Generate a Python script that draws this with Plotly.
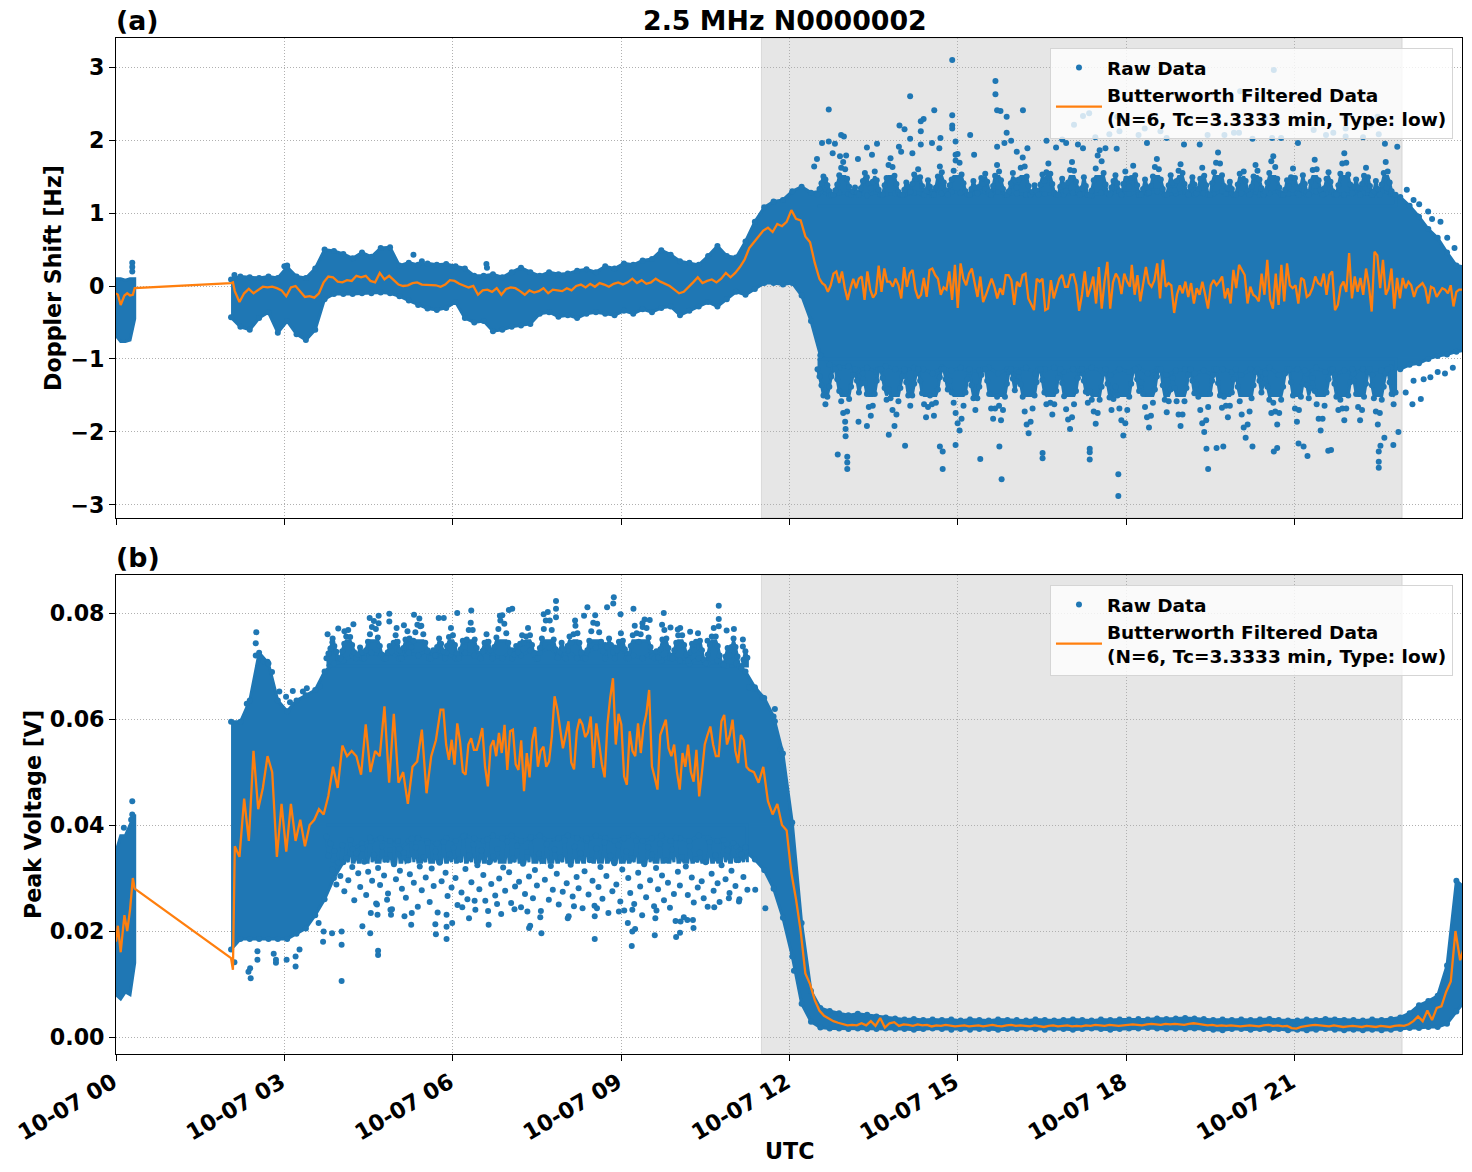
import pandas as pd
import plotly.graph_objects as go

DAY = "2023-10-07"
BLUE = "#1f77b4"
ORANGE = "#ff7f0e"
FONT = "DejaVu Sans"
RAW_NAME = "Raw Data"
FILT_NAME = "Butterworth Filtered Data<br>(N=6, Tc=3.3333 min, Type: low)"
TICK_LABEL_FORMAT = "%m-%d %H"

# Envelope of the densely overlapping raw samples, first recording burst (5 min steps)
burst_upper_a = [.10, .10, .08, .10, .10]
burst_lower_a = [-.68, -.76, -.76, -.74, -.45]
burst_upper_b = [.035, .038, .038, .040, .042]
burst_lower_b = [.008, .0072, .0085, .008, .014]

# Envelope of the main recording (10 min steps from 02:03)
upper_a = [
    .09, .13, .12, .11, .13, .11,
    .26, .13, .11, .24, .50, .48,
    .44, .38, .46, .40, .52, .53,
    .28, .32, .29, .31, .29, .30,
    .27, .24, .14, .14, .16, .12,
    .19, .25, .19, .14, .19, .16,
    .17, .21, .23, .19, .27, .24,
    .31, .29, .35, .37, .49, .43,
    .34, .32, .29, .41, .55, .41,
    .39, .61, .88, 1.08, 1.16, 1.18,
    1.30, 1.36, 1.28, 1.30, 1.24, 1.28,
    1.26, 1.28, 1.24, 1.29, 1.26, 1.27,
    1.25, 1.28, 1.26, 1.30, 1.27, 1.29,
    1.28, 1.25, 1.30, 1.27, 1.29, 1.26,
    1.27, 1.25, 1.29, 1.26, 1.27, 1.25,
    1.28, 1.26, 1.24, 1.28, 1.27, 1.30,
    1.26, 1.28, 1.27, 1.30, 1.25, 1.27,
    1.29, 1.25, 1.27, 1.26, 1.30, 1.27,
    1.27, 1.29, 1.25, 1.27, 1.30, 1.26,
    1.27, 1.25, 1.30, 1.27, 1.28, 1.25,
    1.28, 1.27, 1.25, 1.30, 1.26, 1.22,
    1.10, .95, .78, .66, .46, .28, .26,
]
lower_a = [
    -.43, -.56, -.60, -.44, -.36, -.64,
    -.48, -.66, -.74, -.60, -.18, -.11,
    -.11, -.11, -.10, -.10, -.09, -.10,
    -.14, -.20, -.26, -.31, -.33, -.30,
    -.22, -.44, -.50, -.48, -.62, -.60,
    -.56, -.54, -.52, -.38, -.36, -.42,
    -.40, -.44, -.38, -.36, -.38, -.40,
    -.34, -.38, -.32, -.36, -.30, -.28,
    -.40, -.34, -.28, -.22, -.28, -.18,
    -.08, -.12, -.04, .04, .04, .02,
    .04, -.13, -.48, -.95, -1.08, -1.12,
    -1.10, -1.16, -1.12, -1.18, -1.10, -1.14,
    -1.16, -1.12, -1.14, -1.20, -1.12, -1.16,
    -1.12, -1.18, -1.16, -1.12, -1.20, -1.14,
    -1.16, -1.12, -1.20, -1.14, -1.12, -1.18,
    -1.14, -1.20, -1.12, -1.16, -1.22, -1.14,
    -1.18, -1.12, -1.20, -1.14, -1.22, -1.16,
    -1.14, -1.20, -1.16, -1.22, -1.14, -1.18,
    -1.22, -1.14, -1.18, -1.12, -1.22, -1.16,
    -1.14, -1.20, -1.12, -1.18, -1.22, -1.16,
    -1.20, -1.14, -1.22, -1.16, -1.12, -1.14,
    -1.08, -1.06, -1.00, -.96, -.94, -.90, -.88,
]
upper_b = [
    .0595, .0595, .0635, .0725, .0705, .0635,
    .0615, .0635, .0645, .0655, .0690, .0705,
    .0710, .0720, .0715, .0725, .0720, .0725,
    .0715, .0725, .0720, .0730, .0720, .0725,
    .0715, .0725, .0720, .0730, .0720, .0715,
    .0730, .0720, .0730, .0725, .0735, .0720,
    .0730, .0715, .0725, .0735, .0740, .0735,
    .0730, .0720, .0715, .0725, .0710, .0720,
    .0710, .0705, .0715, .0705, .0710, .0700,
    .0705, .0690, .0660, .0640, .0605, .0535,
    .0405, .0215, .0087, .0055, .0049, .0045,
    .0041, .0044, .0042, .0039, .0037, .0035,
    .0033, .0034, .0032, .0033, .0032, .0033,
    .0031, .0033, .0032, .0031, .0033, .0032,
    .0032, .0031, .0033, .0032, .0031, .0032,
    .0033, .0032, .0031, .0033, .0032, .0033,
    .0033, .0034, .0033, .0035, .0034, .0035,
    .0036, .0035, .0034, .0032, .0033, .0032,
    .0033, .0032, .0033, .0034, .0032, .0031,
    .0031, .0033, .0032, .0034, .0033, .0032,
    .0032, .0031, .0033, .0032, .0034, .0037,
    .0045, .0060, .0068, .0078, .0135, .0295, .0280,
]
lower_b = [
    .0165, .0185, .0185, .0185, .0185, .0185,
    .0185, .0195, .0205, .0230, .0260, .0300,
    .0330, .0355, .0365, .0370, .0375, .0370,
    .0355, .0370, .0375, .0370, .0365, .0375,
    .0370, .0380, .0375, .0370, .0380, .0375,
    .0380, .0370, .0375, .0380, .0370, .0375,
    .0380, .0375, .0370, .0380, .0375, .0370,
    .0375, .0380, .0370, .0375, .0380, .0370,
    .0375, .0370, .0380, .0375, .0370, .0365,
    .0360, .0350, .0335, .0315, .0280, .0225,
    .0152, .0063, .0029, .0018, .0016, .0016,
    .0015, .0016, .0015, .0015, .0016, .0015,
    .0015, .0014, .0015, .0016, .0015, .0014,
    .0015, .0014, .0015, .0015, .0014, .0015,
    .0015, .0016, .0015, .0014, .0015, .0015,
    .0014, .0015, .0016, .0015, .0014, .0015,
    .0016, .0016, .0017, .0016, .0015, .0016,
    .0015, .0016, .0015, .0014, .0013, .0015,
    .0015, .0014, .0015, .0014, .0015, .0013,
    .0014, .0013, .0014, .0015, .0014, .0013,
    .0014, .0013, .0014, .0013, .0014, .0015,
    .0017, .0017, .0019, .0019, .0025, .0048, .0070,
]

# Raw samples in the clumpy fringe just outside the solid band (evenly timed)
fringe_top_a = [
    1.25, 1.33, 1.41, 1.50, 1.46, 1.38, 1.30, 1.25, 1.25, 1.31, 1.39, 1.52, 1.62, 1.70, 1.60, 1.47, 1.36, 1.25, 1.30, 1.35, 1.28,
    1.25, 1.34, 1.44, 1.55, 1.49, 1.40, 1.34, 1.43, 1.57, 1.45, 1.32, 1.25, 1.25, 1.38, 1.48, 1.66, 1.75, 1.63, 1.51, 1.40, 1.29,
    1.25, 1.25, 1.32, 1.42, 1.36, 1.29, 1.40, 1.53, 1.47, 1.60, 1.49, 1.37, 1.25, 1.31, 1.45, 1.36, 1.25, 1.25, 1.35, 1.50, 1.64,
    1.56, 1.42, 1.31, 1.25, 1.38, 1.46, 1.58, 1.72, 1.81, 1.69, 1.53, 1.41, 1.30, 1.25, 1.25, 1.33, 1.44, 1.35, 1.27, 1.36, 1.48,
    1.40, 1.54, 1.43, 1.30, 1.25, 1.37, 1.51, 1.66, 1.57, 1.45, 1.33, 1.25, 1.25, 1.30, 1.41, 1.55, 1.45, 1.35, 1.46, 1.62, 1.76,
    1.64, 1.50, 1.37, 1.25, 1.29, 1.38, 1.31, 1.25, 1.39, 1.53, 1.44, 1.56, 1.68, 1.54, 1.40, 1.28, 1.25, 1.25, 1.36, 1.47, 1.38,
    1.30, 1.42, 1.59, 1.70, 1.58, 1.43, 1.32, 1.25, 1.34, 1.49, 1.37, 1.25, 1.25, 1.31, 1.45, 1.61, 1.79, 1.86, 1.71, 1.55, 1.39,
    1.27, 1.25, 1.35, 1.44, 1.52, 1.41, 1.30, 1.25, 1.40, 1.57, 1.47, 1.36, 1.48, 1.65, 1.52, 1.38, 1.25, 1.25, 1.33, 1.46, 1.35,
    1.28, 1.37, 1.50, 1.63, 1.74, 1.60, 1.46, 1.33, 1.25, 1.25, 1.38, 1.52, 1.42, 1.31, 1.44, 1.58, 1.67, 1.55, 1.40, 1.29, 1.25,
    1.36, 1.49, 1.39, 1.27, 1.33, 1.47, 1.62, 1.51, 1.38, 1.25, 1.25, 1.41, 1.56, 1.69, 1.83, 1.68, 1.52, 1.37, 1.26, 1.34, 1.43,
    1.33, 1.25, 1.25, 1.39, 1.54, 1.45, 1.57, 1.44, 1.31, 1.25, 1.36, 1.50, 1.66, 1.58, 1.46, 1.34, 1.25, 1.30, 1.42, 1.55, 1.71,
    1.78, 1.63, 1.47, 1.35, 1.25, 1.25, 1.32, 1.45, 1.36, 1.49, 1.61, 1.48, 1.35, 1.25, 1.37, 1.52, 1.40, 1.29, 1.25, 1.43, 1.59,
    1.73, 1.60, 1.45, 1.32, 1.25, 1.34, 1.47, 1.56, 1.43, 1.30, 1.25, 1.25, 1.38, 1.54, 1.68, 1.82, 1.69, 1.53, 1.39, 1.27, 1.36,
    1.46, 1.35, 1.25, 1.40, 1.51, 1.62, 1.49, 1.37, 1.25, 1.30, 1.44, 1.33, 1.25, 1.39, 1.55, 1.70, 1.57, 1.42, 1.30, 1.25, 1.25,
]
fringe_bottom_a = [
    -1.14, -1.24, -1.36, -1.50, -1.62, -1.52, -1.38, -1.24, -1.14, -1.14, -1.28, -1.44, -1.58, -1.74, -1.86, -1.72, -1.55, -1.38, -1.22, -1.14, -1.30,
    -1.46, -1.34, -1.20, -1.33, -1.48, -1.66, -1.78, -1.64, -1.48, -1.30, -1.14, -1.14, -1.26, -1.40, -1.56, -1.42, -1.54, -1.70, -1.92, -1.76, -1.58,
    -1.40, -1.24, -1.14, -1.32, -1.50, -1.64, -1.50, -1.34, -1.20, -1.14, -1.30, -1.47, -1.62, -1.80, -1.66, -1.50, -1.62, -1.78, -1.60, -1.42, -1.25,
    -1.14, -1.14, -1.28, -1.42, -1.30, -1.46, -1.60, -1.74, -1.88, -1.98, -1.82, -1.64, -1.46, -1.28, -1.14, -1.36, -1.54, -1.70, -1.54, -1.38, -1.22,
    -1.14, -1.14, -1.30, -1.48, -1.68, -1.82, -1.68, -1.52, -1.64, -1.84, -1.70, -1.52, -1.34, -1.18, -1.14, -1.27, -1.43, -1.31, -1.18, -1.35, -1.52,
    -1.72, -1.90, -2.02, -1.86, -1.68, -1.50, -1.32, -1.14, -1.14, -1.29, -1.46, -1.62, -1.48, -1.60, -1.76, -1.62, -1.44, -1.26, -1.14, -1.33, -1.51,
    -1.69, -1.83, -1.96, -1.80, -1.62, -1.44, -1.26, -1.14, -1.14, -1.30, -1.45, -1.60, -1.44, -1.56, -1.72, -1.89, -1.74, -1.56, -1.38, -1.20, -1.14,
    -1.34, -1.53, -1.70, -1.55, -1.38, -1.50, -1.68, -1.84, -2.05, -1.88, -1.70, -1.52, -1.34, -1.16, -1.14, -1.28, -1.44, -1.32, -1.48, -1.66, -1.80,
    -1.94, -1.78, -1.60, -1.42, -1.24, -1.14, -1.14, -1.36, -1.56, -1.73, -1.58, -1.42, -1.26, -1.40, -1.58, -1.76, -1.92, -1.76, -1.58, -1.40, -1.22,
    -1.14, -1.30, -1.47, -1.35, -1.52, -1.70, -1.88, -2.00, -1.84, -1.66, -1.48, -1.30, -1.14, -1.14, -1.33, -1.50, -1.67, -1.52, -1.64, -1.80, -1.64,
    -1.46, -1.28, -1.14, -1.38, -1.58, -1.76, -1.94, -2.08, -1.90, -1.72, -1.54, -1.36, -1.18, -1.14, -1.30, -1.46, -1.34, -1.20, -1.38, -1.56, -1.74,
    -1.60, -1.72, -1.90, -1.74, -1.56, -1.38, -1.20, -1.14, -1.14, -1.32, -1.50, -1.68, -1.86, -1.70, -1.52, -1.34, -1.16, -1.36, -1.54, -1.40, -1.26,
    -1.44, -1.62, -1.82, -1.98, -1.82, -1.64, -1.46, -1.28, -1.14, -1.14, -1.34, -1.52, -1.70, -1.56, -1.68, -1.84, -1.68, -1.50, -1.32, -1.14, -1.30,
    -1.48, -1.66, -1.84, -1.70, -1.52, -1.34, -1.18, -1.14, -1.36, -1.54, -1.72, -1.90, -1.74, -1.56, -1.38, -1.20, -1.14, -1.32, -1.48, -1.62, -1.46,
]
fringe_top_b = [
    .0715, .0724, .0733, .0745, .0738, .0727, .0715, .0715, .0728, .0742, .0756, .0768, .0755, .0740, .0726, .0715, .0722, .0735, .0726,
    .0715, .0730, .0746, .0760, .0774, .0785, .0770, .0754, .0738, .0722, .0715, .0715, .0726, .0738, .0728, .0744, .0758, .0746, .0730,
    .0715, .0734, .0750, .0766, .0752, .0736, .0748, .0764, .0778, .0790, .0776, .0760, .0744, .0728, .0715, .0715, .0730, .0720, .0736,
    .0752, .0742, .0728, .0715, .0738, .0755, .0772, .0758, .0740, .0724, .0715, .0732, .0748, .0736, .0750, .0768, .0782, .0768, .0750,
    .0734, .0718, .0715, .0728, .0744, .0760, .0746, .0730, .0715, .0736, .0754, .0770, .0786, .0796, .0780, .0762, .0744, .0726, .0715,
    .0722, .0738, .0726, .0742, .0758, .0744, .0756, .0772, .0758, .0740, .0722, .0715, .0715, .0734, .0752, .0770, .0786, .0802, .0786,
    .0768, .0750, .0732, .0716, .0728, .0744, .0732, .0715, .0738, .0756, .0744, .0760, .0776, .0762, .0744, .0726, .0715, .0715, .0730,
    .0748, .0766, .0782, .0796, .0780, .0764, .0746, .0728, .0715, .0736, .0752, .0740, .0726, .0715, .0730, .0746, .0762, .0748, .0732,
    .0715, .0715, .0738, .0758, .0776, .0762, .0746, .0760, .0774, .0788, .0772, .0754, .0736, .0718, .0715, .0728, .0716, .0732, .0750,
    .0768, .0752, .0734, .0715, .0715, .0730, .0744, .0758, .0772, .0758, .0740, .0722, .0710, .0726, .0742, .0730, .0746, .0762, .0748,
    .0730, .0712, .0705, .0722, .0740, .0756, .0772, .0756, .0738, .0720, .0705, .0702, .0718, .0734, .0720, .0736, .0752, .0736, .0718,
    .0700, .0696, .0712, .0728, .0716,
]
fringe_bottom_b = [
    .0378, .0342, .0365, .0316, .0351, .0288, .0329, .0304, .0362, .0275, .0338, .0296, .0372, .0321, .0258, .0347, .0309, .0283, .0356,
    .0331, .0268, .0312, .0376, .0295, .0344, .0252, .0319, .0287, .0360, .0305, .0336, .0271, .0353, .0241, .0326, .0298, .0370, .0314,
    .0280, .0348, .0263, .0333, .0307, .0374, .0291, .0358, .0246, .0322, .0277, .0340, .0301, .0366, .0255, .0318, .0285, .0350, .0235,
    .0329, .0294, .0368, .0310, .0266, .0345, .0282, .0357, .0300, .0249, .0335, .0273, .0379, .0317, .0260, .0343, .0292, .0363, .0240,
    .0324, .0279, .0352, .0306, .0257, .0373, .0330, .0289, .0341, .0267, .0355, .0299, .0232, .0320, .0276, .0369, .0311, .0253, .0337,
    .0284, .0361, .0293, .0245, .0327, .0270, .0349, .0303, .0377, .0262, .0315, .0286, .0346, .0238, .0332, .0297, .0364, .0259, .0323,
    .0278, .0354, .0308, .0250, .0339, .0274, .0371, .0290, .0228, .0325, .0265, .0359, .0302, .0281, .0347, .0243, .0313, .0375, .0269,
    .0334, .0295, .0248, .0356, .0283, .0321, .0261, .0367, .0304, .0234, .0342, .0275, .0328, .0288, .0362, .0256, .0316, .0239, .0350,
    .0300, .0272, .0338, .0251, .0370, .0310, .0284, .0230, .0326, .0264, .0358, .0296, .0344, .0247, .0319, .0279, .0365, .0305, .0258,
    .0333, .0291, .0244, .0354, .0270, .0376, .0312, .0286, .0340, .0226, .0322, .0268, .0360, .0301, .0254, .0336, .0282, .0348, .0294,
    .0262, .0330, .0246, .0368, .0308, .0276, .0343, .0290, .0255, .0324, .0372, .0298, .0352, .0272, .0314, .0366, .0285, .0334, .0260,
    .0345, .0302, .0358, .0278,
]

# Isolated raw samples standing clear of the fringe, panel (a)
dots_a_hours = [
    0.29, 0.29, 0.29, 2.11, 3.0, 3.05, 5.3, 5.45, 6.6, 6.61,
    14.9, 15.67, 15.67, 14.15, 12.7, 14.58, 15.7, 15.76, 16.16, 15.87, 14.9, 14.9, 14.9, 14.39, 14.34, 13.96, 14.05, 14.34, 14.15,
    12.58, 12.7, 12.81, 12.92, 12.97, 12.77, 12.9, 13.01, 12.49, 12.44, 13.22, 13.38, 13.56, 13.47, 13.95, 13.99, 14.19, 14.34, 14.54, 14.69, 14.67, 14.96, 14.96,
    15.22, 15.29, 15.7, 15.83, 15.95, 15.87, 16.05, 16.24, 16.58, 16.86, 16.93, 16.75, 17.14, 17.23, 17.45, 17.63, 17.7, 17.88, 17.83,
    18.22, 18.33, 18.37, 18.61, 18.72, 19.03, 19.31, 19.45, 19.75, 19.92, 20.01, 20.25, 20.6, 20.76, 21.06, 21.34, 21.56, 21.69, 21.91, 21.91, 22.22, 22.5, 22.61, 22.83,
    20.63, 20.03, 20.47, 20.69, 17.07, 17.23, 17.34, 17.84, 17.98, 21.91, 22.35, 22.48,
    23.0, 23.12, 23.22, 23.38, 23.45, 23.6, 23.72, 23.85,
]
dots_a_values = [
    0.32, 0.26, 0.20, 0.15, 0.27, 0.28, 0.43, 0.34, 0.30, 0.25,
    3.1, 2.81, 2.63, 2.6, 2.42, 2.41, 2.41, 2.4, 2.41, 2.32, 2.34, 2.2, 2.16, 2.29, 2.26, 2.2, 2.15, 2.12, 2.02,
    1.96, 1.98, 1.95, 2.07, 2.05, 1.82, 1.78, 1.79, 1.74, 1.64, 1.74, 1.9, 1.95, 1.8, 1.91, 1.84, 1.82, 1.94, 1.96, 2.03, 1.89, 1.98, 1.8,
    2.07, 1.8, 1.91, 1.96, 1.99, 2.1, 1.84, 1.89, 1.99, 2.01, 1.96, 1.9, 1.94, 1.89, 2.04, 1.89, 2.08, 2.12, 1.88,
    2.07, 2.16, 1.96, 2.12, 2.03, 1.94, 1.94, 2.07, 2.07, 2.1, 2.1, 2.02, 2.03, 2.03, 1.96, 2.14, 2.07, 2.1, 2.16, 2.05, 2.04, 2.08, 1.95, 1.91,
    2.96, 2.67, 2.3, 2.3, 2.21, 2.33, 2.37, 2.32, 2.26, 2.32, 2.21, 2.32,
    1.32, 1.18, 1.12, 1.02, .92, .88, .66, .52,
]
dots_a_low_hours = [
    17.86, 17.86, 15.78, 13.03, 13.03, 13.03, 12.86, 14.73, 14.73, 14.68, 14.06, 14.96, 15.4, 15.74, 16.51, 16.51, 17.35, 17.35, 17.35, 19.46, 19.43, 19.61, 19.73, 20.25, 20.63, 20.69, 21.23, 21.07, 21.16, 21.6, 21.65, 22.5, 22.5, 22.5, 22.53, 22.6, 22.76, 22.85, 13.0, 13.0, 13.23, 13.38, 13.77,
    22.98, 23.1, 23.12, 23.25, 23.3, 23.42, 23.55, 23.68, 23.82,
]
dots_a_low_values = [
    -2.88, -2.58, -2.65, -2.51, -2.42, -2.34, -2.31, -2.51, -2.27, -2.2, -2.19, -2.18, -2.37, -2.2, -2.29, -2.36, -2.38, -2.28, -2.23, -2.51, -2.23, -2.22, -2.2, -2.2, -2.27, -2.22, -2.33, -2.16, -2.2, -2.26, -2.25, -2.49, -2.41, -2.27, -2.19, -2.08, -2.18, -2.0, -2.06, -1.96, -1.86, -1.92, -2.04,
    -1.46, -1.62, -1.3, -1.55, -1.28, -1.25, -1.18, -1.2, -1.12,
]

# Isolated raw samples standing clear of the fringe, panel (b)
dots_b_hours = [
    0.29, 0.29, 0.27, 0.14, 2.5, 2.49, 2.49, 2.63, 2.7, 2.78, 2.33, 2.91, 3.15, 3.03, 3.1, 3.33, 3.4, 3.63, 3.77, 3.86, 3.96, 4.07, 4.23, 4.52, 4.68, 4.68, 4.87, 4.87, 5.31, 5.0, 5.13, 5.42, 5.75, 5.84,
    6.08, 6.33, 6.84, 7.0, 7.06, 7.62, 7.84, 7.84, 7.84, 8.18, 8.4, 8.34, 8.75, 8.87, 8.86, 9.22, 8.99, 9.38, 9.51, 9.76, 9.73, 9.88, 10.01, 10.23, 10.54, 10.74, 10.74, 10.74, 10.88, 11.01, 11.17, 11.17, 11.28, 11.39, 11.52, 11.74, 11.74, 11.84,
    4.02, 2.4, 2.36, 2.39, 2.52, 2.85, 2.85, 3.04, 3.2, 3.2, 3.27, 2.81, 2.52, 2.11, 4.02, 4.02, 4.67, 4.67, 4.39, 4.53, 3.85, 3.69, 3.7, 3.61, 4.54, 4.66, 4.65, 4.83, 4.89, 4.9, 5.14, 5.26, 5.27, 5.69, 5.7, 5.89, 5.89,
    5.99, 5.89, 6.17, 6.29, 6.39, 6.64, 6.63, 6.79, 7.36, 7.38, 7.58, 7.56, 7.1, 7.33, 8.05, 8.16, 8.53, 8.53, 8.57, 8.96, 9.12, 9.19, 9.2, 9.25, 9.2, 9.6, 9.61, 9.63, 9.98, 10.05, 9.97, 10.06, 10.18, 10.29, 10.28, 10.66, 11.1, 10.92, 11.39, 11.57, 12.08,
]
dots_b_values = [
    .0445, .042, .041, .0395, .0764, .0743, .072, .0709, .0708, .0689, .0629, .0652, .0653, .0642, .0632, .0652, .0658, .0662, .076, .0752, .0771, .0766, .0779, .0791, .0795, .0781, .0799, .0784, .0797, .0772, .0777, .0775, .0791, .0791,
    .08, .0805, .0795, .0806, .0808, .0798, .0823, .0808, .0792, .0786, .0811, .0795, .0811, .083, .0818, .0808, .0798, .0781, .0787, .08, .0778, .0773, .0769, .0765, .0748, .0814, .0789, .0775, .0767, .077, .075, .0737, .066, .0657, .064, .0619, .0596, .0543,
    .0106, .0111, .0123, .013, .0146, .014, .0146, .0146, .0133, .0152, .0165, .0157, .0162, .0141, .0174, .0199, .0155, .0163, .0209, .0196, .0196, .018, .0199, .0215, .0234, .0231, .025, .0259, .024, .0231, .0228, .0212, .0234, .0213, .0194, .0185, .0208,
    .0215, .0231, .0245, .0224, .0257, .0212, .0238, .0251, .0206, .021, .0196, .0226, .0241, .0237, .0224, .0247, .0185, .0228, .0243, .0237, .0215, .0172, .0199, .0204, .024, .0192, .0224, .0239, .0189, .0197, .0219, .0218, .0221, .0206, .0221, .0245, .0256, .0262, .0278, .0243, .0125,
]

# Filtered trace: first burst, then the jump across the recording gap
filt_head_clock = ["00:00", "00:02", "00:05", "00:09", "00:12", "00:15", "00:18", "00:20"]
filt_head_a = [-.10, -.12, -.26, -.13, -.10, -.13, -.12, -.03]
filt_head_b = [.018, .021, .016, .023, .020, .024, .030, .028]
filt_join_clock = ["02:03", "02:05"]
filt_join_a = [.04, .05]
filt_join_b = [.0149, .0127]

# Filtered Doppler shift: 5 min steps from 02:07 to 12:27
filt_a_quiet = [
    -.07, -.22, -.10, -.04, -.10, -.05, -.01, -.02, -.01, -.03, -.06, -.14,
    -.02, .0, -.08, -.15, -.14, -.16, -.10, .05, .13, .12, .06, .05,
    .08, .07, .14, .12, .14, .07, .05, .18, .09, .14, .08, .02,
    .0, .01, .04, .05, .02, .02, .01, .01, -.01, .02, .08, .07,
    .03, .01, -.02, .0, -.12, -.06, -.05, -.08, -.03, -.12, -.04, -.02,
    -.03, -.07, -.12, -.06, -.09, -.07, -.03, -.10, -.05, -.06, -.07, -.03,
    -.06, .0, .02, -.02, .03, -.01, .04, .02, -.01, .03, .05, .02,
    .05, .10, .04, .08, .03, .05, .10, .06, .03, .0, -.05, -.10,
    -.08, -.02, .05, .12, .04, .07, .09, .05, .10, .18, .12, .18,
    .26, .36, .52, .60, .68, .76, .80, .74, .85, .82, .88, 1.04,
    .92, .90, .68, .60, .32,
]
# Filtered Doppler shift during the disturbed hours, evenly timed 12:32-18:04 and 18:06-23:59
filt_a_noisy_1 = [
    .10, .04, .01, -.08, .01, .17, .20, .04, .20, -.03, -.19, -.03, .10, -.03, .10, .13, -.19, .20, -.05, -.16,
    -.10, .28, -.08, .24, .06, .06, -.01, .10, .01, -.17, .26, -.01, .17, .22, -.05, -.17, -.12, .11, -.15, .22,
    .24, .15, .10, -.12, -.02, -.05, .20, -.19, .29, -.30, .31, .10, .01, .17, .24, .04, -.15, .13, -.22, -.12,
    -.01, .10, -.01, -.17, -.03, -.12, .15, .15, .08, -.26, .06, -.01, .15, .17, -.17, -.26, -.33, .10, .06, .10,
    -.33, -.31, .08, -.17, -.03, .10, .15, -.01, -.01, .15, .16, .01, -.34, -.12, .20, -.15, -.03, .13, -.24, .26,
    -.31, .06, .33, -.31, .05, .17, .10, -.11, .17, .06, -.01,
]
filt_a_noisy_2 = [
    .29, -.12, .15, -.21, .06, .26, .04, -.01, .08, .31, -.17, .36, -.01, .04, .01, -.37, -.12, .01, -.10, .06,
    -.15, .04, -.24, -.03, -.12, .06, -.12, -.31, .01, .08, .01, .06, .13, -.17, -.03, -.24, .22, -.03, .29, .22,
    .15, -.24, -.01, -.12, -.15, -.21, .17, -.12, .36, -.19, -.31, .17, -.26, .29, -.21, .31, .01, -.03, .01, -.24,
    .11, .08, -.15, -.12, -.03, .13, .04, .01, .17, -.12, .15, .20, -.33, -.26, -.01, .06, -.08, .45, -.17, .13,
    -.08, .11, -.12, .24, .01, -.35, .47, .42, -.03, .36, -.12, -.03, .24, -.31, .11, -.17, .11, -.03, .06, .01,
    -.15, -.03, .01, .04, -.03, -.24, -.01, -.03, -.15, -.08, -.03, -.05, -.10, .01, -.28, -.08, -.05, -.05,
]
# Filtered peak voltage: 5 min steps 02:07-05:42, evenly timed 05:47-11:17, 5 min steps from 11:22
filt_b_early = [
    .036, .034, .045, .037, .054, .043, .047, .053, .050, .034, .044, .035,
    .044, .037, .041, .036, .040, .041, .043, .042, .0455, .051, .047, .055,
    .053, .054, .053, .0495, .059, .050, .054, .053, .0624, .048, .061, .048,
    .050, .044, .051, .052, .058, .046, .053, .056,
]
filt_b_noisy = [
    .0618, .0618, .0552, .0523, .0561, .0514, .0592, .0558, .0500, .0495, .0552, .0564, .0542, .0542, .0561, .0583, .0510, .0473, .0548, .0560,
    .0530, .0574, .0536, .0589, .0504, .0577, .0580, .0515, .0504, .0560, .0464, .0536, .0490, .0560, .0585, .0510, .0540, .0548, .0510, .0520,
    .0567, .0643, .0618, .0580, .0545, .0570, .0596, .0518, .0505, .0577, .0600, .0590, .0566, .0575, .0605, .0508, .0592, .0555, .0515, .0490,
    .0590, .0640, .0677, .0552, .0610, .0590, .0492, .0476, .0577, .0540, .0530, .0592, .0536, .0586, .0610, .0655, .0511, .0490, .0467, .0570,
    .0586, .0599, .0545, .0530, .0552, .0500, .0467, .0536, .0510, .0552, .0500, .0482, .0542, .0454, .0500, .0552, .0570, .0586, .0552, .0530,
    .0530, .0596, .0608, .0552, .0570, .0599, .0540, .0517, .0570, .0560, .0510, .0504,
]
filt_b_late = [
    .050, .048, .051, .0445, .042, .044, .040, .039, .031,
    .026, .020, .012, .010, .007, .005, .004, .0035, .003, .0027, .0025, .0022,
    .0023, .0022, .0026, .0022, .0030, .0021, .0036, .0018, .0026, .0028, .0021, .0024,
    .0023, .0021, .0024, .0022, .0023, .0020, .0022, .0021, .0023, .0022, .0020, .0021,
    .0022, .0020, .0021, .0022, .0020, .0021, .0023, .0021, .0020, .0022, .0023, .0021,
    .0022, .0021, .0020, .0022, .0021, .0019, .0021, .0022, .0020, .0021, .0022, .0020,
    .0021, .0020, .0022, .0021, .0023, .0022, .0021, .0023, .0022, .0021, .0022, .0023,
    .0024, .0023, .0022, .0024, .0025, .0024, .0023, .0025, .0024, .0025, .0024, .0023,
    .0025, .0026, .0025, .0024, .0022, .0023, .0021, .0022, .0021, .0022, .0021, .0020,
    .0021, .0022, .0021, .0020, .0022, .0023, .0021, .0022, .0020, .0021, .0017, .0016,
    .0019, .0021, .0022, .0023, .0022, .0021, .0020, .0022, .0021, .0019, .0020, .0021,
    .0020, .0019, .0021, .0020, .0019, .0021, .0020, .0019, .0021, .0022, .0021, .0024,
    .0030, .0039, .0030, .0050, .0032, .0055, .0058, .0085, .0105, .0200, .0145, .0175,
]

shade_start, shade_end = f"{DAY} 11:30", f"{DAY} 22:55"
x_range = [f"{DAY} 00:00", f"{DAY} 23:59"]
y_range_a = [-3.18, 3.4]
y_range_b = [-0.0032, 0.0872]

# Limits of the merged, visually solid part of each fringe, and a level inside the band
rim_top_a, rim_bottom_a = (1.50, 1.10), (-1.50, -1.00)
rim_top_b, rim_bottom_b = (.0748, .0700), (.0330, .0400)


def stamp(hours):
    return [pd.Timestamp(DAY) + pd.Timedelta(hours=h) for h in hours]


def clock(labels):
    return [pd.Timestamp(f"{DAY} {c}") for c in labels]


def grid(start, step, values):
    return list(pd.date_range(f"{DAY} {start}", periods=len(values), freq=step))


def between(start, end, values):
    return list(pd.date_range(f"{DAY} {start}", f"{DAY} {end}", periods=len(values)))


def band(up1, lo1, up2, lo2):
    # Closed outline around the two recording stretches, split by a gap
    t1 = grid("00:00", "5min", up1)
    t2 = grid("02:03", "10min", up2)
    x = t1 + t1[::-1] + [None] + t2 + t2[::-1]
    y = up1 + lo1[::-1] + [None] + up2 + lo2[::-1]
    return x, y


def rim(outline, times, values, limit, inner):
    # Extends an outline with the jagged merged edge of a fringe series; every
    # piece winds the same way so overlapping pieces stay filled
    x = outline[0] + [None] + times + times[::-1]
    if limit > inner:
        y = outline[1] + [None] + [min(v, limit) for v in values] + [inner] * len(times)
    else:
        y = outline[1] + [None] + [inner] * len(times) + [max(v, limit) for v in values[::-1]]
    return x, y


fig = go.Figure()


def add_panel(axis_suffix, legend, outline, dot_x, dot_y, filt_x, filt_y):
    xa, ya = "x" + axis_suffix, "y" + axis_suffix
    fig.add_trace(go.Scatter(
        x=outline[0], y=outline[1], mode="lines", fill="toself", fillcolor=BLUE,
        line=dict(color=BLUE, width=3), showlegend=False, hoverinfo="skip", xaxis=xa, yaxis=ya))
    fig.add_trace(go.Scatter(
        x=dot_x, y=dot_y, mode="markers", name=RAW_NAME, legend=legend,
        marker=dict(color=BLUE, size=6, line=dict(width=0)), xaxis=xa, yaxis=ya))
    fig.add_trace(go.Scatter(
        x=filt_x, y=filt_y, mode="lines", name=FILT_NAME, legend=legend,
        line=dict(color=ORANGE, width=2.3), xaxis=xa, yaxis=ya))


edge_t = grid("02:03", "10min", upper_a)
top_a_t = between("12:30", "22:48", fringe_top_a)
bottom_a_t = between("12:30", "22:48", fringe_bottom_a)
top_b_t = between("03:45", "11:15", fringe_top_b)
bottom_b_t = between("03:45", "11:15", fringe_bottom_b)

raw_a_x = stamp(dots_a_hours + dots_a_low_hours) + edge_t + edge_t + top_a_t + bottom_a_t
raw_a_y = dots_a_values + dots_a_low_values + upper_a + lower_a + fringe_top_a + fringe_bottom_a
raw_b_x = stamp(dots_b_hours) + edge_t + edge_t + top_b_t + bottom_b_t
raw_b_y = dots_b_values + upper_b + lower_b + fringe_top_b + fringe_bottom_b

head_t = clock(filt_head_clock) + clock(filt_join_clock)
filt_a_x = (head_t + grid("02:07", "5min", filt_a_quiet)
            + between("12:32", "18:04", filt_a_noisy_1) + between("18:06", "23:59", filt_a_noisy_2))
filt_a_y = filt_head_a + filt_join_a + filt_a_quiet + filt_a_noisy_1 + filt_a_noisy_2
filt_b_x = (head_t + grid("02:07", "5min", filt_b_early)
            + between("05:47", "11:17", filt_b_noisy) + grid("11:22", "5min", filt_b_late))
filt_b_y = filt_head_b + filt_join_b + filt_b_early + filt_b_noisy + filt_b_late

outline_a = band(burst_upper_a, burst_lower_a, upper_a, lower_a)
outline_a = rim(outline_a, top_a_t, fringe_top_a, *rim_top_a)
outline_a = rim(outline_a, bottom_a_t, fringe_bottom_a, *rim_bottom_a)
outline_b = band(burst_upper_b, burst_lower_b, upper_b, lower_b)
outline_b = rim(outline_b, top_b_t, fringe_top_b, *rim_top_b)
outline_b = rim(outline_b, bottom_b_t, fringe_bottom_b, *rim_bottom_b)

add_panel("", "legend", outline_a, raw_a_x, raw_a_y, filt_a_x, filt_a_y)
add_panel("2", "legend2", outline_b, raw_b_x, raw_b_y, filt_b_x, filt_b_y)

tick_font = dict(family=FONT, size=22.2, color="black", weight="bold")
title_font = dict(family=FONT, size=22.2, color="black", weight="bold")
grid_style = dict(showgrid=True, gridcolor="#b0b0b0", griddash="1px,2px", gridwidth=1, zeroline=False,
                  showline=True, mirror=True, linecolor="black", linewidth=1, automargin=False,
                  ticks="outside", ticklen=6, tickcolor="black", tickwidth=1, tickfont=tick_font)
x_style = dict(type="date", range=x_range, tick0=f"{DAY} 00:00", dtick=3 * 3600 * 1000,
               tickformat=TICK_LABEL_FORMAT, **grid_style)
legend_style = dict(xanchor="right", yanchor="top", bgcolor="rgba(255,255,255,0.8)",
                    bordercolor="#d5d5d5", borderwidth=1, itemwidth=46, tracegroupgap=0,
                    font=dict(family=FONT, size=18.5, color="black", weight="bold"))

fig.update_layout(
    width=1472, height=1172, autosize=False,
    margin=dict(l=116, r=10, t=38, b=118),
    paper_bgcolor="white", plot_bgcolor="white",
    font=dict(family=FONT, color="black"),
    hovermode=False,
    xaxis=dict(domain=[0, 1], anchor="y", showticklabels=False, **x_style),
    yaxis=dict(domain=[0.5276, 1], anchor="x", range=y_range_a, tickvals=[-3, -2, -1, 0, 1, 2, 3],
               ticktext=["−3", "−2", "−1", "0", "1", "2", "3"],
               title=dict(text="Doppler Shift [Hz]", font=title_font, standoff=2), **grid_style),
    xaxis2=dict(domain=[0, 1], anchor="y2", matches="x", tickangle=-30, ticklabelshift=-3, **x_style),
    yaxis2=dict(domain=[0, 0.4715], anchor="x2", range=y_range_b,
                tickvals=[0, .02, .04, .06, .08], tickformat=".2f",
                title=dict(text="Peak Voltage [V]", font=title_font, standoff=2), **grid_style),
    legend=dict(x=0.9933, y=0.9902, **legend_style),
    legend2=dict(x=0.9933, y=0.4616, **legend_style),
)

for xref, yref in (("x", "y domain"), ("x2", "y2 domain")):
    fig.add_shape(type="rect", xref=xref, yref=yref, x0=shade_start, x1=shade_end, y0=0, y1=1,
                  fillcolor="rgba(128,128,128,0.2)", line=dict(color="rgba(128,128,128,0.2)", width=1),
                  layer="below")

heading = dict(family=FONT, size=26.8, color="black", weight="bold")
for text, x, y, anchor, shift in (("(a)", 0, 1.0, "left", -2), ("2.5 MHz N0000002", 0.5, 1.0, "center", -4),
                                  ("(b)", 0, 0.4715, "left", -2)):
    fig.add_annotation(text=text, xref="paper", yref="paper", x=x, y=y, xanchor=anchor, yanchor="bottom",
                       showarrow=False, font=heading, yshift=0, xshift=shift)
fig.add_annotation(text="UTC", xref="paper", yref="paper", x=0.5, y=-0.0955, xanchor="center", yanchor="middle",
                   showarrow=False, font=title_font)

fig.write_html("out.html")
